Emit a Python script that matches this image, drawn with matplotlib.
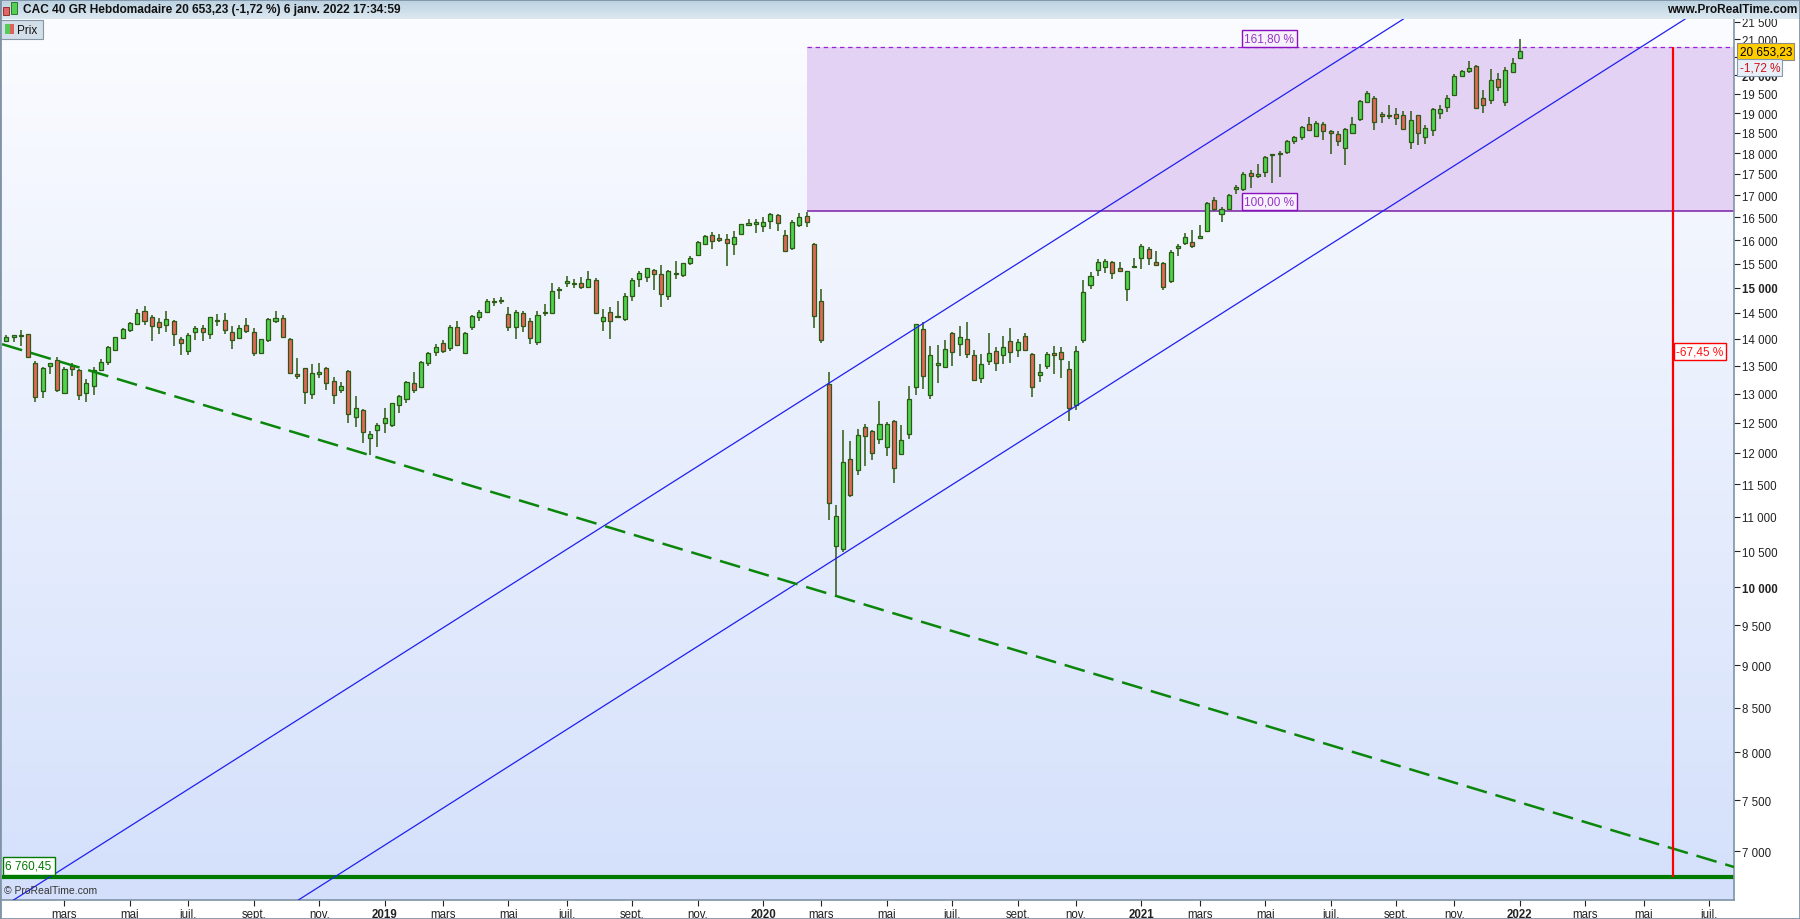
import numpy as np
import pandas as pd
import matplotlib
matplotlib.use("Agg")
import matplotlib.pyplot as plt
import matplotlib.dates as mdates
from matplotlib.patches import Rectangle
from matplotlib.colors import LinearSegmentedColormap
from matplotlib.ticker import FixedLocator, NullLocator

plt.rcParams['font.family'] = ['Liberation Sans', 'DejaVu Sans']

# weekly candles, CAC 40 GR, week of 8 Jan 2018 -> week of 3 Jan 2022
first_week = "2018-01-08"
opens = [13955, 14030, 14050, 14090, 13550, 13050, 13490, 13605, 13015, 13495,
         13420, 13015, 13125, 13425, 13575, 13790, 14015, 14175, 14290, 14530,
         14415, 14320, 14255, 14340, 13990, 13765, 14125, 14205, 14085, 14340,
         14355, 14125, 14020, 14260, 14125, 13730, 13970, 14340, 14395, 13990,
         13345, 13455, 12990, 13355, 13455, 13220, 13060, 13405, 12590, 12715,
         12235, 12380, 12500, 12465, 12800, 12900, 13185, 13120, 13545, 13750,
         13915, 13825, 14220, 13730, 14220, 14415, 14510, 14720, 14730, 14475,
         14220, 14490, 14340, 13935, 14490, 14505, 14950, 15095, 15075, 15095,
         15010, 15155, 14340, 14510, 14415, 14375, 14830, 15175, 15220, 15360,
         15280, 14830, 15280, 15260, 15505, 15675, 15910, 16105, 16040, 16020,
         15910, 16130, 16325, 16350, 16305, 16415, 16550, 16105, 15820, 16320,
         16525, 15910, 14730, 13165, 10575, 10530, 11895, 11720, 12420, 12355,
         12225, 12090, 12525, 11975, 12305, 13115, 14185, 12970, 13505, 13470,
         14105, 13900, 13990, 13695, 13275, 13580, 13765, 13695, 13955, 13785,
         14050, 13710, 13330, 13490, 13730, 13750, 13435, 12800, 13970, 15055,
         15360, 15425, 15525, 15405, 14970, 15425, 15615, 15805, 15525, 15505,
         15135, 15825, 15935, 15955, 16040, 16195, 16890, 16570, 16685, 17140,
         17155, 17515, 17445, 17540, 17945, 17970, 18020, 18290, 18390, 18715,
         18425, 18715, 18540, 18465, 18120, 18490, 18845, 19300, 19385, 18970,
         18945, 18970, 18945, 18265, 18945, 18390, 18565, 18995, 19150, 19480,
         19975, 20110, 20245, 19385, 19335, 19895, 19280, 20080, 20465]
highs = [14075, 14080, 14165, 14090, 13590, 13475, 13550, 13655, 13470, 13550,
         13440, 13260, 13470, 13620, 13870, 14040, 14210, 14330, 14580, 14640,
         14455, 14390, 14540, 14355, 14040, 14105, 14235, 14255, 14415, 14480,
         14500, 14240, 14260, 14395, 14205, 14000, 14395, 14530, 14455, 14010,
         13645, 13465, 13530, 13550, 13470, 13290, 13205, 13425, 12955, 12730,
         12360, 12490, 12750, 12835, 12970, 13220, 13385, 13580, 13750, 13900,
         13970, 14260, 14340, 14125, 14455, 14550, 14770, 14800, 14820, 14610,
         14550, 14530, 14395, 14530, 14670, 15095, 15010, 15240, 15175, 15220,
         15340, 15210, 14570, 14610, 14730, 14890, 15190, 15340, 15410, 15385,
         15465, 15360, 15555, 15520, 15655, 15975, 16105, 16175, 16130, 16130,
         16195, 16360, 16460, 16460, 16500, 16600, 16570, 16215, 16435, 16595,
         16615, 15935, 14970, 13385, 11180, 12370, 12190, 12390, 12470, 12370,
         12870, 12505, 12540, 12455, 13130, 14280, 14320, 13860, 13880, 13970,
         14125, 14240, 14320, 13785, 13710, 14105, 13840, 14050, 14205, 13990,
         14105, 13730, 13525, 13750, 13860, 13840, 13580, 13860, 15155, 15320,
         15590, 15590, 15550, 15525, 15340, 15615, 15910, 15850, 15760, 15525,
         15785, 15910, 16150, 16215, 16325, 16845, 16955, 16730, 17025, 17235,
         17540, 17585, 17730, 17925, 17970, 18045, 18315, 18415, 18665, 18895,
         18795, 18765, 18565, 18540, 18615, 18895, 19350, 19575, 19440, 19020,
         19205, 19125, 19045, 19045, 18945, 18690, 19125, 19205, 19465, 20025,
         20135, 20385, 20275, 19600, 20165, 20055, 20220, 20465, 21000]
lows = [13935, 13935, 13870, 13650, 12860, 12930, 13355, 13035, 13015, 13305,
        12895, 12845, 12975, 13400, 13515, 13775, 13995, 14135, 14270, 14270,
        13965, 14100, 14120, 13855, 13705, 13705, 13985, 13965, 14000, 14240,
        14100, 13815, 14000, 14105, 13675, 13710, 13935, 14300, 14030, 13365,
        13250, 12825, 12910, 13275, 13070, 12825, 13005, 12500, 12420, 12160,
        11970, 12100, 12325, 12430, 12670, 12835, 13005, 13105, 13500, 13675,
        13725, 13765, 13860, 13730, 14165, 14340, 14490, 14630, 14670, 14150,
        13990, 14120, 13900, 13880, 14435, 14490, 14770, 15010, 14990, 14970,
        15005, 14475, 14145, 13990, 14415, 14340, 14730, 15025, 15115, 14965,
        14610, 14750, 15175, 15220, 15465, 15660, 15895, 15805, 15955, 15445,
        15670, 16130, 16305, 16165, 16175, 16240, 16195, 15760, 15785, 16275,
        16275, 14215, 13915, 10955, 9885, 10485, 11300, 11640, 11785, 11880,
        12140, 11945, 11515, 11960, 12225, 12970, 13080, 12900, 13185, 13455,
        13490, 13675, 13635, 13240, 13185, 13505, 13400, 13525, 13545, 13655,
        13785, 12935, 13205, 13435, 13340, 13275, 12525, 12715, 13915, 14970,
        15240, 15300, 15175, 15320, 14730, 15405, 15385, 15465, 15445, 14950,
        15095, 15655, 15890, 15825, 16020, 16195, 16640, 16395, 16660, 17025,
        17110, 17165, 17400, 17420, 17280, 17420, 17970, 18215, 18315, 18540,
        18415, 18315, 17970, 18170, 17705, 18465, 18795, 19270, 18565, 18740,
        18845, 18690, 18565, 18095, 18195, 18215, 18415, 18845, 19020, 19465,
        19945, 20055, 19100, 18995, 19230, 19575, 19180, 20055, 20465]
closes = [14030, 14070, 14065, 13655, 12935, 13460, 13545, 13070, 13440, 13445,
          12980, 13185, 13425, 13565, 13840, 14030, 14190, 14305, 14500, 14340,
          14240, 14220, 14375, 14085, 13915, 14070, 14205, 14125, 14415, 14355,
          14165, 13970, 14205, 14145, 13730, 13990, 14375, 14395, 14030, 13365,
          13320, 13025, 13365, 13380, 13185, 12970, 13135, 12645, 12745, 12340,
          12305, 12455, 12575, 12835, 12955, 13205, 13060, 13565, 13730, 13840,
          13765, 14220, 13880, 14105, 14435, 14510, 14730, 14740, 14750, 14220,
          14510, 14240, 14010, 14455, 14510, 14930, 14980, 15135, 15095, 15010,
          15175, 14490, 14415, 14340, 14435, 14830, 15155, 15300, 15405, 15280,
          14870, 15340, 15300, 15505, 15615, 15955, 16085, 15975, 16000, 15935,
          16065, 16350, 16375, 16400, 16395, 16570, 16370, 15775, 16395, 16510,
          16395, 14440, 13970, 11215, 11010, 11845, 11330, 12290, 12275, 11990,
          12470, 12470, 11755, 12205, 12900, 14280, 13310, 13695, 13545, 13805,
          13750, 14030, 13710, 13240, 13525, 13730, 13545, 13840, 13750, 13935,
          13785, 13115, 13380, 13710, 13695, 13620, 12745, 13765, 14910, 15240,
          15525, 15550, 15300, 15340, 15340, 15445, 15870, 15615, 15465, 15010,
          15740, 15870, 16065, 15870, 16085, 16820, 16685, 16685, 17000, 17190,
          17490, 17445, 17490, 17900, 17970, 18000, 18290, 18390, 18640, 18565,
          18740, 18540, 18490, 18290, 18590, 18715, 19325, 19520, 18765, 18920,
          18935, 18870, 18590, 18820, 18490, 18615, 19100, 19100, 19385, 19975,
          20110, 20190, 19125, 19205, 19865, 19680, 20135, 20330, 20653.23]

# drawn objects
fib_start = "2020-02-17"
fib_100 = 16645
fib_1618 = 20769
fib_label_date = "2021-05-07"
support = 6760.45
drop_date = "2022-05-30"
drop_label = "-67,45 %"
# channel (two parallel lines) and long falling trendline, two points each
channel_up = [("2018-01-15", 6551), ("2021-09-12", 21560)]
channel_low = [("2018-10-16", 6551), ("2022-06-10", 21560)]
falling = [("2018-01-02", 13910), ("2022-07-28", 6850)]

last_price = 20653.23
title = "CAC 40 GR Hebdomadaire 20 653,23 (-1,72 %) 6 janv. 2022 17:34:59"
month_names = {3: "mars", 5: "mai", 7: "juil.", 9: "sept.", 11: "nov."}
ytick_vals = list(range(7000, 22000, 500))

W, H = 1800, 920
fig = plt.figure(figsize=(W / 100, H / 100), dpi=100, facecolor="white")
pos = [2 / W, 19 / H, 1732 / W, 881 / H]

# gradient background behind the price panel
bg = fig.add_axes(pos, zorder=0)
grad = np.linspace(0, 1, 256).reshape(-1, 1)
bg.imshow(grad, aspect="auto", extent=[0, 1, 0, 1],
          cmap=LinearSegmentedColormap.from_list("bg", ["#fbfcff", "#d4e0fb"]))
bg.set_axis_off()

ax = fig.add_axes(pos, zorder=1)
ax.patch.set_visible(False)
ax.set_yscale("log")

dates = pd.date_range(first_week, periods=len(opens), freq="W-MON")
x = mdates.date2num(dates)
o = np.array(opens, float)
h = np.array(highs, float)
l = np.array(lows, float)
c = np.array(closes, float)

edge = "#2c5a12"
up = c >= o
body_lo = np.minimum(o, c)
body_h = np.maximum(np.abs(c - o), body_lo * 0.0012)
ax.vlines(x, l, h, color=edge, lw=1.1, zorder=3)
ax.bar(x, body_h, bottom=body_lo, width=3.9,
       color=np.where(up, "#4fd24f", "#e2675b"), edgecolor=edge, linewidth=0.9, zorder=4)

x_left = mdates.date2num(pd.Timestamp(first_week) - pd.Timedelta(days=4.1))
x_right = mdates.date2num(pd.Timestamp("2022-07-28"))

# fibonacci zone
fs = mdates.date2num(pd.Timestamp(fib_start))
ax.fill_between([fs, x_right], fib_100, fib_1618, color="#e4d2f4", lw=0, zorder=1)
ax.hlines(fib_1618, fs, x_right, color="#9a22d6", lw=0.9, linestyles=(0, (3.5, 3)), zorder=2)
ax.hlines(fib_100, fs, x_right, color="#7a1fa8", lw=1.1, zorder=2)
for lvl, txt in [(fib_1618, "161,80 %"), (fib_100, "100,00 %")]:
    ax.annotate(txt, xy=(mdates.date2num(pd.Timestamp(fib_label_date)), lvl),
                xytext=(0, 2.2), textcoords="offset points", ha="center", va="bottom",
                fontsize=8.5, color="#9535c8", zorder=6,
                bbox=dict(boxstyle="square,pad=0.22", fc="#f6f1fc", ec="#8a10c0", lw=1))

# support line
ax.axhline(support, color="#007a00", lw=3, zorder=2)
ax.annotate("6 760,45", xy=(0, support), xycoords=("axes fraction", "data"),
            xytext=(2.5, 3.5), textcoords="offset points", ha="left", va="bottom",
            fontsize=8.5, color="#007a00", zorder=6,
            bbox=dict(boxstyle="square,pad=0.25", fc="white", ec="#007a00", lw=1))

# channel + falling trendline
for pts in (channel_up, channel_low):
    p = [(mdates.date2num(pd.Timestamp(d)), v) for d, v in pts]
    ax.axline(p[0], p[1], color="#2020f0", lw=0.9, zorder=5)
p = [(mdates.date2num(pd.Timestamp(d)), v) for d, v in falling]
ax.axline(p[0], p[1], color="#0a860a", lw=1.8, dashes=(8.4, 3.6), zorder=5)

# drop measure
dd = mdates.date2num(pd.Timestamp(drop_date))
ax.vlines(dd, support, fib_1618, color="#ff0000", lw=1.6, zorder=5)
ax.annotate(drop_label, xy=(dd, (support + fib_1618) / 2), xytext=(2.5, 0),
            textcoords="offset points", ha="left", va="center", fontsize=8.5,
            color="#ff1010", zorder=6,
            bbox=dict(boxstyle="square,pad=0.2", fc="white", ec="#ff0000", lw=1))

ax.text(0.001, 0.006, "© ProRealTime.com", transform=ax.transAxes, fontsize=7.5,
        color="#333333", ha="left", va="bottom", zorder=6)

# axes
ax.set_xlim(x_left, x_right)
ax.set_ylim(6551, 21580)
ax.yaxis.tick_right()
ax.yaxis.set_minor_locator(NullLocator())
ax.set_yticks(ytick_vals, [f"{v:,}".replace(",", " ") for v in ytick_vals])
for t, v in zip(ax.get_yticklabels(), ytick_vals):
    if v % 5000 == 0:
        t.set_fontweight("bold")
ax.tick_params(axis="y", which="both", direction="out", length=4, width=0.8,
               labelsize=8.3, pad=1.5, colors="#222222", left=False)

mondays = pd.Series(pd.date_range("2018-01-01", "2022-08-01", freq="W-MON"))
firsts = mondays.groupby([mondays.dt.year, mondays.dt.month]).first()
firsts = firsts[firsts.dt.month % 2 == 1]
firsts = firsts[(firsts >= dates[0]) & (mdates.date2num(firsts) <= x_right)]
xt = mdates.date2num(firsts)
xl = [str(d.year) if d.month == 1 else month_names[d.month] for d in firsts]
ax.xaxis.set_major_locator(FixedLocator(xt))
ax.set_xticks(xt, xl)
ax.xaxis.set_minor_locator(NullLocator())
for t, d in zip(ax.get_xticklabels(), firsts):
    if d.month == 1:
        t.set_fontweight("bold")
ax.tick_params(axis="x", direction="out", length=4, width=0.8, labelsize=8.3,
               pad=1.5, colors="#222222")

for s in ("top", "left"):
    ax.spines[s].set_visible(False)
for s in ("bottom", "right"):
    ax.spines[s].set_color("#7f93a6")
    ax.spines[s].set_linewidth(1.2)

# last price tags on the price scale
ax.annotate("20 653,23", xy=(1, last_price), xycoords=("axes fraction", "data"),
            xytext=(4, 0), textcoords="offset points", ha="left", va="center",
            fontsize=8.5, color="black", zorder=7, annotation_clip=False,
            bbox=dict(boxstyle="square,pad=0.2", fc="#ffcc00", ec="#8a8a8a", lw=0.8))
ax.annotate("-1,72 %", xy=(1, last_price), xycoords=("axes fraction", "data"),
            xytext=(4, -11.5), textcoords="offset points", ha="left", va="center",
            fontsize=8.5, color="#d01010", zorder=7, annotation_clip=False,
            bbox=dict(boxstyle="square,pad=0.2", fc="#e8eff8", ec="#8a9aaa", lw=0.8))

# header bar
hd = fig.add_axes([0, 1 - 20 / H, 1, 20 / H], zorder=2)
hd.imshow(grad, aspect="auto", extent=[0, 1, 0, 1],
          cmap=LinearSegmentedColormap.from_list("hd", ["#b9d0e0", "#dde9f1"]))
hd.set_axis_off()
hd.add_patch(Rectangle((3 / W, 0.2), 6 / W, 0.38, transform=hd.transAxes,
                       fc="#e06666", ec="#8a2020", lw=0.6))
hd.add_patch(Rectangle((11 / W, 0.25), 6 / W, 0.6, transform=hd.transAxes,
                       fc="#55d055", ec="#1c6a1c", lw=0.6))
fig.text(23 / W, 1 - 10 / H, title, fontsize=8.6, fontweight="bold", va="center",
         ha="left", color="#111111")
fig.text(1 - 3 / W, 1 - 10 / H, "www.ProRealTime.com", fontsize=8.6,
         fontweight="bold", va="center", ha="right", color="#111111")

# "Prix" tab
fig.patches.append(Rectangle((0, 1 - 40 / H), 43 / W, 19 / H, transform=fig.transFigure,
                             fc="#d2dee8", ec="#8596a6", lw=0.8, zorder=3))
fig.patches.append(Rectangle((5 / W, 1 - 35 / H), 4.5 / W, 10 / H, transform=fig.transFigure,
                             fc="#55cc55", ec="none", zorder=4))
fig.patches.append(Rectangle((9.5 / W, 1 - 35 / H), 4.5 / W, 10 / H, transform=fig.transFigure,
                             fc="#e06060", ec="none", zorder=4))
fig.text(17 / W, 1 - 30.5 / H, "Prix", fontsize=8.5, va="center", ha="left",
         color="#111111", zorder=5)

# window frame
fig.patches.append(Rectangle((0, 0), 1, 1, transform=fig.transFigure, fill=False,
                             ec="#7f93a6", lw=2, zorder=10))

fig.savefig("out.png", dpi=100, facecolor="white")
